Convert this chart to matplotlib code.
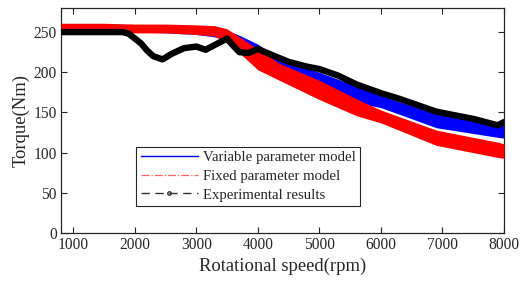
import matplotlib
matplotlib.use("Agg")
import matplotlib.pyplot as plt
from matplotlib.lines import Line2D

# ---- data ----
rpm_band = [800, 1500, 2000, 2500, 3000, 3300, 3500, 3700, 4000, 4350, 5000,
            5600, 6000, 6900, 7900, 8000]
red_upper = [261, 261, 260, 260, 259, 258, 254, 244, 229, 211, 190,
             167, 153, 128, 113, 111]
red_lower = [250, 250, 249, 249, 247, 245, 236, 224, 203, 190, 166,
             146, 137, 109, 94, 93]
blue_upper = [258, 258, 258, 258, 257, 256, 252, 246, 235, 217, 200,
              183, 171, 148, 136, 135]
blue_lower = [250, 250, 250, 249, 247, 244, 240, 232, 218, 201, 178,
              162, 156, 131, 119, 118]

rpm_exp = [800, 1000, 1500, 1800, 1900, 2000, 2100, 2200, 2300, 2450, 2600,
           2800, 3000, 3150, 3300, 3500, 3600, 3700, 3850, 4000, 4150, 4340,
           4500, 4800, 5000, 5300, 5600, 6000, 6300, 6900, 7500, 7900, 8000]
torque_exp = [250, 250, 250, 250, 248, 242, 236, 227, 220, 216, 223,
              230, 232, 228, 234, 242, 233, 225, 224, 229, 224, 218,
              213, 207, 204, 196, 185, 174, 167, 151, 142, 134, 138]

labels = ["Variable parameter model", "Fixed parameter model", "Experimental results"]
xticks = [1000, 2000, 3000, 4000, 5000, 6000, 7000, 8000]
yticks = [0, 50, 100, 150, 200, 250]

plt.rcParams['font.family'] = ['Liberation Serif', 'DejaVu Serif']

fig = plt.figure(figsize=(5.24, 2.85), dpi=100)
ax = fig.add_axes([0.1164, 0.1825, 0.8454, 0.7895])

ax.fill_between(rpm_band, blue_lower, blue_upper, color='#0000ff', lw=0, zorder=2)
ax.fill_between(rpm_band, red_lower, red_upper, color='#ff0000', lw=0, zorder=3)
ax.plot(rpm_exp, torque_exp, color='black', lw=4.6, solid_capstyle='round',
        solid_joinstyle='round', zorder=4)

ax.set_xlim(800, 8000)
ax.set_ylim(0, 280)
ax.set_xticks(xticks)
ax.set_yticks(yticks)
ax.tick_params(direction='in', top=True, right=True, labelsize=11.2, length=4,
               width=0.8, colors='#262626', labelcolor='#262626', pad=3)
for s in ax.spines.values():
    s.set_linewidth(0.9)
    s.set_color('#262626')

ax.set_xlabel("Rotational speed(rpm)", fontsize=13.4, color='#262626', labelpad=3)
ax.set_ylabel("Torque(Nm)", fontsize=13.4, color='#262626', labelpad=3)

handles = [
    Line2D([], [], color='#0000ff', lw=1.0, ls='-'),
    Line2D([], [], color='#ff6060', lw=0.9, ls='-.'),
    Line2D([], [], color='#333333', lw=1.0, ls=(0, (6, 4)), marker='o',
           markersize=2.5, markerfacecolor='none', markevery=[1]),
]
leg = ax.legend(handles, labels, loc='lower left',
                bbox_to_anchor=(0.17, 0.12), fontsize=10.6, frameon=True,
                fancybox=False, edgecolor='#262626', framealpha=1,
                borderpad=0.3, labelspacing=0.36, handlelength=3.9,
                handletextpad=0.3, borderaxespad=0)
leg.get_frame().set_linewidth(0.8)
for t in leg.get_texts():
    t.set_color('#262626')

fig.savefig("out.png", dpi=100)
